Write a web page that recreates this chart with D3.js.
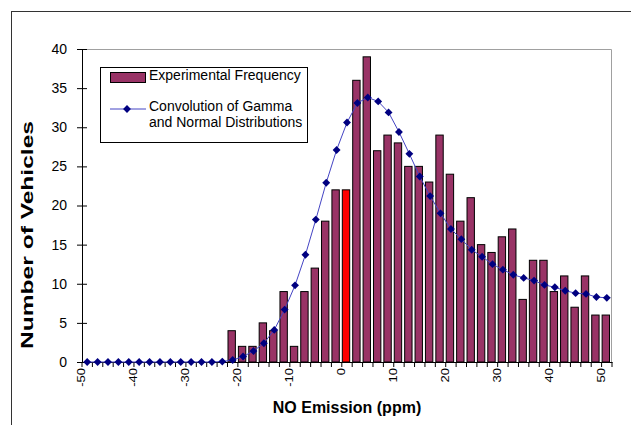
<!DOCTYPE html>
<html>
<head>
<meta charset="utf-8">
<script src="https://cdn.jsdelivr.net/npm/d3@7"></script>
<style>
  body { margin: 0; background: #fff; }
  svg { display: block; font-family: "Liberation Sans", Arial, sans-serif; }
</style>
</head>
<body>
<svg id="chart" width="631" height="425"></svg>
<script>
// NO emission bins (ppm)
const categories = [-50, -48, -46, -44, -42, -40, -38, -36, -34, -32, -30, -28, -26, -24, -22,
  -20, -18, -16, -14, -12, -10, -8, -6, -4, -2, 0, 2, 4, 6, 8, 10, 12, 14, 16, 18, 20,
  22, 24, 26, 28, 30, 32, 34, 36, 38, 40, 42, 44, 46, 48, 50];

const frequency = [0, 0, 0, 0, 0, 0, 0, 0, 0, 0, 0, 0, 0, 0, 4,
  2, 2, 5, 4, 9, 2, 9, 12, 18, 22, 22, 36, 39, 27, 29, 28, 25, 25, 23, 29, 24,
  18, 21, 15, 14, 16, 17, 8, 13, 13, 9, 11, 7, 11, 6, 6];

const convolution = [0, 0, 0, 0, 0, 0, 0, 0, 0, 0, 0, 0, 0, 0.05, 0.25,
  0.7, 1.4, 2.4, 4.1, 6.7, 9.8, 13.7, 18.2, 22.9, 27.1, 30.6, 33.1, 33.8, 33.3, 31.9, 29.4, 26.6, 23.7, 21.2, 19.0, 17.0,
  15.7, 14.35, 13.45, 12.5, 11.8, 11.15, 10.75, 10.4, 9.85, 9.55, 9.1, 8.8, 8.7, 8.3, 8.2];

const highlighted = [0];
const xTickLabels = [-50, -40, -30, -20, -10, 0, 10, 20, 30, 40, 50];
const yTicks = [0, 5, 10, 15, 20, 25, 30, 35, 40];
const seriesNames = ["Experimental Frequency", ["Convolution of Gamma", "and Normal Distributions"]];

const width = 631;
const height = 425;
const margin = { top: 49, right: 19, bottom: 63, left: 82 };

const barColor = "#993366";
const lineColor = "#4444c4";
const markerColor = "#000080";

const svg = d3.select("#chart");

// outer chart frame (runs off the right and bottom edges)
svg.append("rect")
  .attr("x", 11.5).attr("y", 11.5)
  .attr("width", 700).attr("height", 500)
  .attr("fill", "none")
  .attr("stroke", "#333");

const x = d3.scaleBand()
  .domain(categories)
  .range([margin.left, width - margin.right]);

const y = d3.scaleLinear()
  .domain([0, 40])
  .range([height - margin.bottom, margin.top]);

// plot area border (grey top and right)
svg.append("path")
  .attr("d", `M${margin.left},${margin.top + 0.5}H${width - margin.right - 0.5}V${height - margin.bottom}`)
  .attr("fill", "none")
  .attr("stroke", "#a0a0a0");

// bars
const barW = x.bandwidth() * 0.71;
svg.append("g")
  .selectAll("rect")
  .data(categories.map((c, i) => ({ c, v: frequency[i] })).filter(d => d.v > 0))
  .join("rect")
  .attr("x", d => x(d.c) + (x.bandwidth() - barW) / 2 - 1)
  .attr("y", d => y(d.v))
  .attr("width", barW)
  .attr("height", d => y(0) - y(d.v))
  .attr("fill", d => highlighted.includes(d.c) ? "#ff0000" : barColor)
  .attr("stroke", "#000")
  .attr("stroke-width", 1);

// y axis
svg.append("g")
  .attr("transform", `translate(${margin.left},0)`)
  .call(d3.axisLeft(y).tickValues(yTicks).tickSizeOuter(0))
  .call(g => g.select(".domain").attr("stroke", "#000"))
  .call(g => g.selectAll(".tick line").attr("x1", 5).attr("x2", -5).attr("stroke", "#000"))
  .call(g => g.selectAll(".tick text")
    .attr("x", -15)
    .attr("font-size", 14)
    .attr("font-family", "Liberation Sans, Arial, sans-serif")
    .attr("fill", "#000"));

// x axis: labels every 10 ppm, tick marks between every bin
svg.append("g")
  .attr("transform", `translate(0,${height - margin.bottom})`)
  .call(d3.axisBottom(x).tickValues(xTickLabels).tickSize(0).tickSizeOuter(0))
  .call(g => g.select(".domain").attr("stroke", "#000"))
  .call(g => g.selectAll(".tick text")
    .attr("transform", "rotate(-90) scale(1,0.85)")
    .attr("text-anchor", "end")
    .attr("x", -6)
    .attr("y", -7)
    .attr("dy", "0.35em")
    .attr("font-size", 13)
    .attr("font-family", "Liberation Sans, Arial, sans-serif")
    .attr("fill", "#000"));

svg.append("g")
  .selectAll("line")
  .data(categories.concat(["end"]))
  .join("line")
  .attr("x1", d => d === "end" ? x.range()[1] : x(d))
  .attr("x2", d => d === "end" ? x.range()[1] : x(d))
  .attr("y1", y(0))
  .attr("y2", y(0) + 5)
  .attr("stroke", "#000");

// convolution curve
const line = d3.line()
  .x((d, i) => x(categories[i]) + x.bandwidth() / 2)
  .y(d => y(d));

svg.append("path")
  .datum(convolution)
  .attr("fill", "none")
  .attr("stroke", lineColor)
  .attr("stroke-width", 1)
  .attr("d", line);

const diamond = d3.symbol(d3.symbolSquare, 31);

svg.append("g")
  .selectAll("path")
  .data(convolution)
  .join("path")
  .attr("d", diamond)
  .attr("transform", (d, i) => `translate(${x(categories[i]) + x.bandwidth() / 2},${y(d)}) rotate(45)`)
  .attr("fill", markerColor);

// legend
const legend = svg.append("g");
legend.append("rect")
  .attr("x", 100.5).attr("y", 67.5)
  .attr("width", 207).attr("height", 75)
  .attr("fill", "#fff").attr("stroke", "#000");
legend.append("rect")
  .attr("x", 110.5).attr("y", 72.5)
  .attr("width", 35).attr("height", 10)
  .attr("fill", barColor).attr("stroke", "#000");
legend.append("text")
  .attr("x", 149).attr("y", 79.5)
  .attr("font-size", 14)
  .text(seriesNames[0]);
legend.append("line")
  .attr("x1", 110).attr("x2", 146)
  .attr("y1", 109).attr("y2", 109)
  .attr("stroke", lineColor);
legend.append("path")
  .attr("d", diamond)
  .attr("transform", "translate(127,109) rotate(45)")
  .attr("fill", markerColor);
legend.append("text")
  .attr("font-size", 14)
  .selectAll("tspan")
  .data(seriesNames[1])
  .join("tspan")
  .attr("x", 149)
  .attr("y", (d, i) => 110.7 + i * 16)
  .text(d => d);

// axis titles
svg.append("text")
  .attr("x", 347).attr("y", 413)
  .attr("text-anchor", "middle")
  .attr("font-size", 16)
  .attr("font-weight", "bold")
  .text("NO Emission (ppm)");

svg.append("text")
  .attr("transform", "translate(33,235) rotate(-90)")
  .attr("text-anchor", "middle")
  .attr("font-size", 16)
  .attr("font-weight", "bold")
  .attr("textLength", 228)
  .attr("lengthAdjust", "spacingAndGlyphs")
  .text("Number of Vehicles");
</script>
</body>
</html>
